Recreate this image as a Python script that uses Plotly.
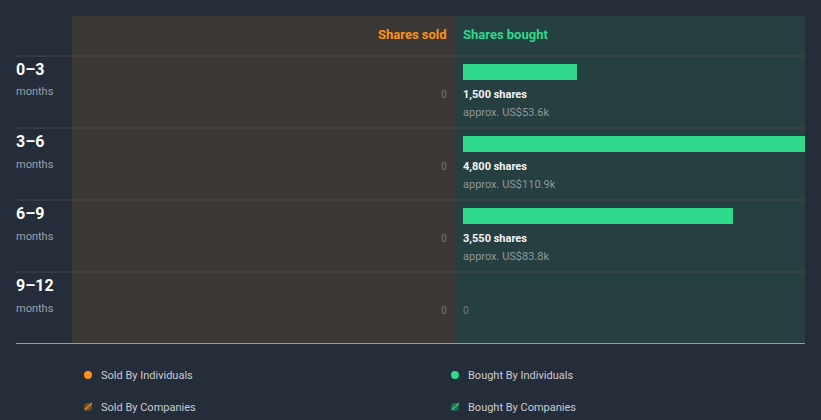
import plotly.graph_objects as go

# ---- data ----
periods = ["0–3", "3–6", "6–9", "9–12"]
period_unit = ["months", "months", "months", "months"]
shares_bought = [1500, 4800, 3550, 0]
value_bought = ["US$53.6k", "US$110.9k", "US$83.8k", ""]
shares_sold = [0, 0, 0, 0]
legend_labels = ["Sold By Individuals", "Bought By Individuals", "Sold By Companies", "Bought By Companies"]

W, H = 821, 420
BG = "#252c3a"
SOLD_BG = "#3c3835"
BOUGHT_BG = "#263f41"
GREEN = "#2ed98a"
ORANGE = "#ff9214"
GRID = "#4d4b49"


def px(x):
    return x / W


def py(y):
    return 1 - y / H


fig = go.Figure()

rows = list(range(len(periods)))

# bought bars
fig.add_trace(go.Bar(
    y=rows, x=shares_bought, orientation="h",
    xaxis="x2", yaxis="y",
    marker=dict(color=GREEN, line=dict(width=0)),
    width=0.222, offset=-0.389, hoverinfo="skip", showlegend=False,
))
# sold bars (all zero)
fig.add_trace(go.Bar(
    y=rows, x=shares_sold, orientation="h",
    xaxis="x", yaxis="y",
    marker=dict(color=ORANGE, line=dict(width=0)),
    width=0.222, offset=-0.389, hoverinfo="skip", showlegend=False,
))

shapes = [
    dict(type="rect", xref="paper", yref="paper", x0=px(72), x1=px(455), y0=py(343), y1=py(16),
         fillcolor=SOLD_BG, line=dict(width=0), layer="below"),
    dict(type="rect", xref="paper", yref="paper", x0=px(455), x1=px(805), y0=py(343), y1=py(16),
         fillcolor=BOUGHT_BG, line=dict(width=0), layer="below"),
]
for yy in [56, 128, 200, 272]:
    shapes.append(dict(type="line", xref="paper", yref="paper", x0=px(16), x1=px(805), y0=py(yy), y1=py(yy),
                       line=dict(color=GRID, width=1), layer="below"))
shapes.append(dict(type="line", xref="paper", yref="paper", x0=px(16), x1=px(805), y0=py(343.5), y1=py(343.5),
                   line=dict(color="#9a9ea4", width=1)))

ann = []
font = "Roboto, sans-serif"
# headers
ann.append(dict(xref="paper", yref="paper", x=px(447), y=py(34), text="<b>Shares sold</b>", showarrow=False,
                xanchor="right", yanchor="middle", xshift=2, font=dict(family=font, size=13, color=ORANGE)))
ann.append(dict(xref="paper", yref="paper", x=px(463), y=py(34), text="<b>Shares bought</b>", showarrow=False,
                xanchor="left", yanchor="middle", xshift=-2, font=dict(family=font, size=13, color=GREEN)))

for i, p in enumerate(periods):
    # row labels
    ann.append(dict(xref="paper", yref="y", x=px(16), y=i - 0.31, text="<b>%s</b>" % p, showarrow=False,
                    xanchor="left", yanchor="middle", xshift=-2, font=dict(family=font, size=16, color="#ffffff")))
    ann.append(dict(xref="paper", yref="y", x=px(16), y=i, text=period_unit[i], showarrow=False,
                    xanchor="left", yanchor="middle", xshift=-2, font=dict(family=font, size=11, color="#9ba1a8")))
    # sold value
    ann.append(dict(xref="paper", yref="y", x=px(448), y=i + 0.03, text=str(shares_sold[i]), showarrow=False,
                    xanchor="right", yanchor="middle", xshift=1, font=dict(family=font, size=10, color="#77777a")))
    # bought labels
    if shares_bought[i] > 0:
        ann.append(dict(xref="x2", yref="y", x=0, y=i + 0.03, text="<b>{:,} shares</b>".format(shares_bought[i]),
                        showarrow=False, xanchor="left", yanchor="middle", xshift=-2,
                        font=dict(family=font, size=11, color="#f4f4f4")))
        ann.append(dict(xref="x2", yref="y", x=0, y=i + 0.28, text="approx. " + value_bought[i],
                        showarrow=False, xanchor="left", yanchor="middle", xshift=-2,
                        font=dict(family=font, size=11, color="#8f969d")))
    else:
        ann.append(dict(xref="x2", yref="y", x=0, y=i + 0.03, text="0", showarrow=False,
                        xanchor="left", yanchor="middle", xshift=-2,
                        font=dict(family=font, size=10, color="#77777a")))

# legend
leg_pos = [(88, 375), (455, 375), (88, 407), (455, 407)]
for (lx, ly), lab in zip(leg_pos, legend_labels):
    ann.append(dict(xref="paper", yref="paper", x=px(lx + 12), y=py(ly), text=lab, showarrow=False,
                    xanchor="left", yanchor="middle", xshift=-1, font=dict(family=font, size=11, color="#c9cdd2")))

# legend markers on a full-paper pixel axis
fig.add_trace(go.Scatter(
    x=[88, 455], y=[375, 375], xaxis="x3", yaxis="y3", mode="markers",
    marker=dict(symbol="circle", size=8, color=[ORANGE, GREEN], line=dict(width=0)),
    hoverinfo="skip", showlegend=False,
))
fig.add_trace(go.Scatter(
    x=[88, 455], y=[407, 407], xaxis="x3", yaxis="y3", mode="markers",
    marker=dict(symbol="circle", size=8, color=["rgba(255,146,20,0.35)", "rgba(46,217,138,0.35)"],
                line=dict(width=0)),
    hoverinfo="skip", showlegend=False,
))
fig.add_trace(go.Scatter(
    x=[86, 88.5, 90.5, 453, 455.5, 457.5], y=[408.5, 406.5, 404.5, 408.5, 406.5, 404.5],
    xaxis="x3", yaxis="y3", mode="markers",
    marker=dict(symbol="line-ne", size=[3, 6, 3, 3, 6, 3],
                line=dict(width=1.2, color=[ORANGE] * 3 + [GREEN] * 3)),
    hoverinfo="skip", showlegend=False,
))

fig.update_layout(
    width=W, height=H,
    margin=dict(l=0, r=0, t=0, b=0),
    paper_bgcolor=BG, plot_bgcolor="rgba(0,0,0,0)",
    shapes=shapes, annotations=ann,
    bargap=0,
    xaxis=dict(domain=[px(72), px(447)], range=[4500, 0], visible=False, fixedrange=True),
    xaxis2=dict(domain=[px(463), px(805)], range=[0, 4500], visible=False, fixedrange=True),
    yaxis=dict(domain=[py(344), py(56)], range=[3.5, -0.5], visible=False, fixedrange=True),
    xaxis3=dict(domain=[0, 1], range=[0, W], visible=False, fixedrange=True, anchor="y3"),
    yaxis3=dict(domain=[0, 1], range=[H, 0], visible=False, fixedrange=True, anchor="x3"),
    showlegend=False,
)

fig.write_html("out.html")
